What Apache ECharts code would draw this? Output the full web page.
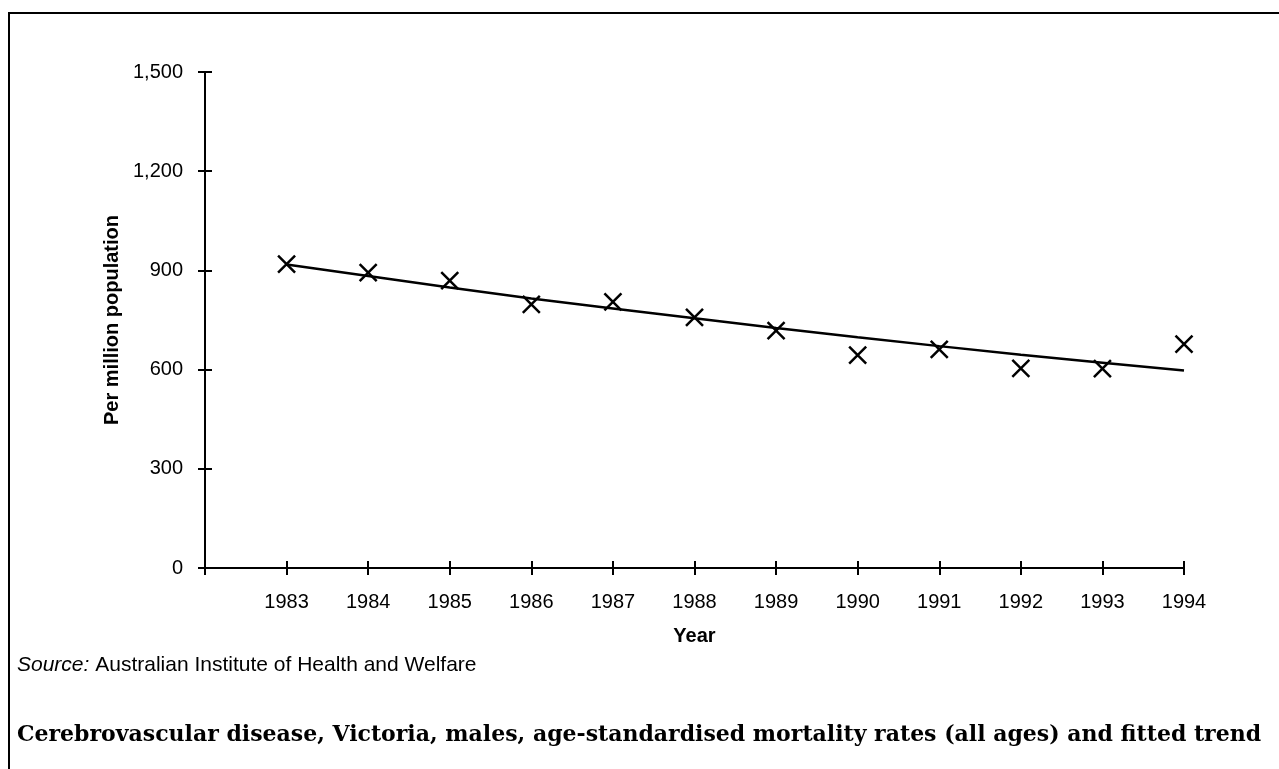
<!DOCTYPE html>
<html>
<head>
<meta charset="utf-8">
<script src="https://cdn.jsdelivr.net/npm/echarts@6/dist/echarts.min.js"></script>
<style>
	html, body {margin: 0; padding: 0; background: #fff;}
	#chart {width: 1279px; height: 769px;}
</style>
</head>
<body>
<div id="chart"></div>
<script>
// years and values
var years = [1983, 1984, 1985, 1986, 1987, 1988, 1989, 1990, 1991, 1992, 1993, 1994];
var rates = [919, 893, 869, 797, 805, 758, 718, 644, 661, 604, 603, 677];
var trend = [918, 883, 848, 815, 785, 755, 726, 698, 671, 645, 621, 597];
var yTicks = [0, 300, 600, 900, 1200, 1500];

var titleText = 'Cerebrovascular disease, Victoria, males, age-standardised mortality rates (all ages) and fitted trend';
var sourceText = 'Australian Institute of Health and Welfare';

var myChart = echarts.init(document.getElementById('chart'));

var rateData = [];
var trendData = [];
years.forEach(function(y, i) {
	rateData.push([y, rates[i]]);
	trendData.push([y, trend[i]]);
});

var xMin = years[0] - 1;
var xMax = years[years.length - 1];
var yMax = yTicks[yTicks.length - 1];
var yStep = yTicks[1] - yTicks[0];

var font = 'Liberation Sans, Arial, sans-serif';

var option = {
	animation: false,
	backgroundColor: '#fff',
	grid: {left: 205, right: 95, top: 72, bottom: 201},
	xAxis: [{
		type: 'value',
		min: xMin,
		max: xMax,
		interval: 1,
		name: 'Year',
		nameLocation: 'middle',
		nameGap: 58,
		nameTextStyle: {color: '#000', fontFamily: font, fontSize: 20, fontWeight: 'bold'},
		splitLine: {show: false},
		axisLine: {onZero: false, lineStyle: {color: '#000', width: 2}},
		axisTick: {length: 7, lineStyle: {color: '#000', width: 2}},
		axisLabel: {
			color: '#000', fontFamily: font, fontSize: 20, margin: 24,
			formatter: function(v) { return v === xMin ? '' : String(v); }
		}
	}, {
		type: 'value',
		min: xMin,
		max: xMax,
		interval: 1,
		position: 'bottom',
		offset: 0,
		splitLine: {show: false},
		axisLine: {onZero: false, show: false},
		axisTick: {inside: true, length: 7, lineStyle: {color: '#000', width: 2}},
		axisLabel: {show: false}
	}],
	yAxis: [{
		type: 'value',
		min: 0,
		max: yMax,
		interval: yStep,
		name: 'Per million population',
		nameLocation: 'middle',
		nameGap: 83,
		nameTextStyle: {color: '#000', fontFamily: font, fontSize: 20, fontWeight: 'bold'},
		splitLine: {show: false},
		axisLine: {show: true, onZero: false, lineStyle: {color: '#000', width: 2}},
		axisTick: {show: true, length: 7, lineStyle: {color: '#000', width: 2}},
		axisLabel: {
			color: '#000', fontFamily: font, fontSize: 20, margin: 22,
			formatter: function(v) { return v.toLocaleString('en-US'); }
		}
	}, {
		type: 'value',
		min: 0,
		max: yMax,
		interval: yStep,
		position: 'left',
		offset: 0,
		splitLine: {show: false},
		axisLine: {show: false},
		axisTick: {show: true, inside: true, length: 7, lineStyle: {color: '#000', width: 2}},
		axisLabel: {show: false}
	}],
	series: [{
		name: 'Fitted trend',
		type: 'line',
		data: trendData,
		showSymbol: false,
		symbol: 'none',
		lineStyle: {color: '#000', width: 2.5},
		z: 2
	}, {
		name: 'Mortality rate',
		type: 'scatter',
		data: rateData,
		symbol: 'path://M0,0 L10,10 M10,0 L0,10',
		symbolSize: 17,
		itemStyle: {color: 'none', borderColor: '#000', borderWidth: 2.5, opacity: 1},
		z: 3
	}],
	graphic: [{
		type: 'rect',
		shape: {x: 9, y: 13, width: 1400, height: 900},
		style: {fill: 'none', stroke: '#000', lineWidth: 2},
		silent: true
	}, {
		type: 'text',
		left: 17,
		top: 655,
		style: {
			text: '{i|Source:} ' + sourceText,
			fontFamily: font,
			fontSize: 21,
			fill: '#000',
			rich: {i: {fontStyle: 'italic', fontFamily: font, fontSize: 21, fill: '#000'}}
		}
	}, {
		type: 'text',
		left: 17,
		top: 724,
		style: {
			text: titleText,
			fontFamily: 'DejaVu Serif, serif',
			fontSize: 22,
			fontWeight: 'bold',
			fill: '#000'
		}
	}]
};
myChart.setOption(option);
</script>
</body>
</html>
